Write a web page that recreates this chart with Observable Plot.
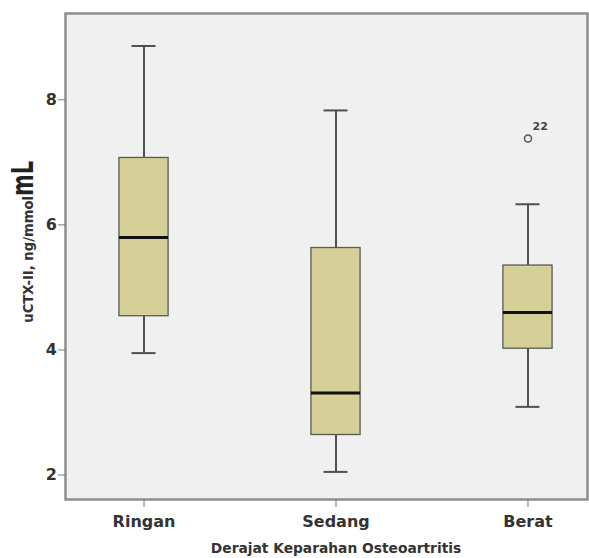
<!DOCTYPE html>
<html>
<head>
<meta charset="utf-8">
<script src="https://cdn.jsdelivr.net/npm/d3@7"></script>
<script src="https://cdn.jsdelivr.net/npm/@observablehq/plot@0.6"></script>
<style>
  html, body { margin: 0; padding: 0; background: #ffffff; }
  #chart svg { display: block; }
</style>
</head>
<body>
<div id="chart"></div>
<script>
// ---- data ----
const categories = ["Ringan", "Sedang", "Berat"];
const whiskerLow  = [3.95, 2.05, 3.09];
const q1          = [4.54, 2.64, 4.02];
const medians     = [5.80, 3.31, 4.60];
const q3          = [7.07, 5.63, 5.35];
const whiskerHigh = [8.86, 7.83, 6.33];
const outlierCat   = ["Berat"];
const outlierValue = [7.38];
const outlierLabel = ["22"];
const yTicks = [2, 4, 6, 8];
const xTitle = "Derajat Keparahan Osteoartritis";
const yTitleMain = "uCTX-II, ng/mmol";
const yTitleUnit = "mL";

const boxes = categories.map((c, i) => ({
  cat: c, i, lo: whiskerLow[i], q1: q1[i], med: medians[i], q3: q3[i], hi: whiskerHigh[i]
}));
const outliers = outlierCat.map((c, k) => ({
  i: categories.indexOf(c), v: outlierValue[k], label: outlierLabel[k]
}));

const FONT = "'DejaVu Sans', Verdana, sans-serif";
const boxHalf = 0.128;
const capHalf = 0.0625;

const chart = Plot.plot({
  width: 589,
  height: 558,
  marginLeft: 65,
  marginRight: 2,
  marginTop: 13,
  marginBottom: 59,
  style: {
    fontFamily: FONT,
    fontSize: "16px",
    fontWeight: "bold",
    color: "#222",
    background: "#ffffff"
  },
  x: { domain: [-0.409, 2.31], label: null },
  y: { domain: [1.609, 9.38], label: null },
  marks: [
    Plot.frame({ fill: "#f0f0f0", stroke: "#8e8e8e", strokeWidth: 2.5 }),
    // whiskers
    Plot.ruleX(boxes, { x: "i", y1: "lo", y2: "q1", stroke: "#505050", strokeWidth: 2 }),
    Plot.ruleX(boxes, { x: "i", y1: "q3", y2: "hi", stroke: "#505050", strokeWidth: 2 }),
    // caps
    Plot.ruleY(boxes, { y: "lo", x1: d => d.i - capHalf, x2: d => d.i + capHalf, stroke: "#505050", strokeWidth: 2 }),
    Plot.ruleY(boxes, { y: "hi", x1: d => d.i - capHalf, x2: d => d.i + capHalf, stroke: "#505050", strokeWidth: 2 }),
    // boxes
    Plot.rect(boxes, {
      x1: d => d.i - boxHalf, x2: d => d.i + boxHalf, y1: "q1", y2: "q3",
      fill: "#d5d098", stroke: "#5a5a50", strokeWidth: 1.3
    }),
    // medians
    Plot.ruleY(boxes, { y: "med", x1: d => d.i - boxHalf, x2: d => d.i + boxHalf, stroke: "#111", strokeWidth: 3 }),
    // outliers
    Plot.dot(outliers, { x: "i", y: "v", r: 3.5, stroke: "#555", strokeWidth: 1.5, fill: "none" }),
    Plot.text(outliers, { x: "i", y: "v", text: "label", dx: 4.5, dy: -12.5, textAnchor: "start", fontSize: 11, fill: "#444" }),
    // axes
    Plot.axisY({
      ticks: yTicks, tickSize: 7, tickPadding: 1.5, stroke: "#777", fontSize: 16, fontWeight: "bold", fill: "#333"
    }),
    Plot.axisX({
      ticks: [0, 1, 2], tickFormat: i => categories[i], tickSize: 8, tickPadding: 8,
      stroke: "#777", fontSize: 16, fontWeight: "bold", fill: "#333"
    }),
    Plot.text([xTitle], { x: () => 1, frameAnchor: "bottom", dy: 53.5, fontSize: 13.8, fontWeight: "bold", fill: "#333", text: d => d })
  ]
});

const svg = d3.select(chart);
svg.append("text")
  .attr("transform", "translate(33,322.7) rotate(-90)")
  .attr("text-anchor", "start")
  .attr("fill", "#333")
  .attr("font-weight", "bold")
  .attr("font-family", FONT)
  .attr("font-size", 13.2)
  .text(yTitleMain);
svg.append("text")
  .attr("transform", "translate(33,196) rotate(-90) scale(0.87,1.25)")
  .attr("text-anchor", "start")
  .attr("fill", "#222")
  .attr("font-weight", "bold")
  .attr("font-family", FONT)
  .attr("font-size", 24)
  .text(yTitleUnit);

document.getElementById("chart").appendChild(chart);
</script>
</body>
</html>
